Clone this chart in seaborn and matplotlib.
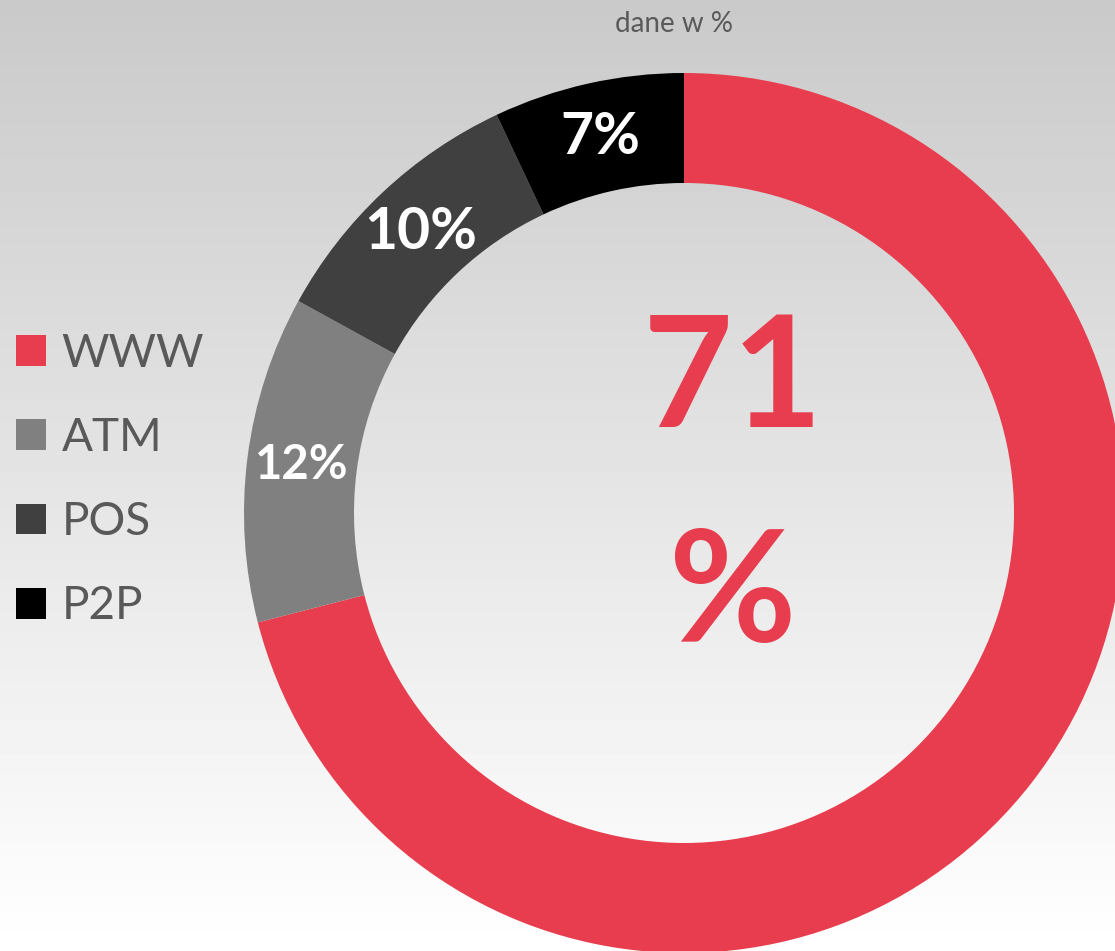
"""
Donut chart: share of card transactions by channel (dane w %)
"""

import numpy as np
import seaborn as sns
import matplotlib.pyplot as plt

# ─── DATA ────────────────────────────────────────────────────────────────────
channels = ["WWW", "ATM", "POS", "P2P"]
shares   = [71, 12, 10, 7]
colors   = ["#E73D4E", "#808080", "#404040", "#000000"]
title    = "dane w %"

# ─── STYLE ───────────────────────────────────────────────────────────────────
sns.set_theme(style="white")
plt.rcParams["font.family"] = ["Lato", "DejaVu Sans"]

W, H = 1115, 951
fig = plt.figure(figsize=(W / 100, H / 100), dpi=100)
ax = fig.add_axes([0, 0, 1, 1])

# vertical grey -> white background gradient
grad = np.linspace(0.79, 1.0, 256).reshape(-1, 1)
ax.imshow(grad, extent=(0, W, 0, H), origin="upper", cmap="gray",
          vmin=0, vmax=1, aspect="auto", zorder=0)

# ─── DONUT ───────────────────────────────────────────────────────────────────
cx, cy, r_out, ring = 684, H - 513, 440, 110
wedges, _, pcts = ax.pie(
    shares, colors=sns.color_palette(colors), startangle=90, counterclock=False,
    center=(cx, cy), radius=r_out,
    wedgeprops=dict(width=ring, linewidth=0),
    autopct=lambda p: f"{p:.0f}%", pctdistance=(r_out - ring / 2) / r_out,
)
for i, t in enumerate(pcts):
    t.set_color("white")
    t.set_fontweight("bold")
    t.set_fontsize([1, 34, 41, 41][i])
pcts[0].set_visible(False)  # big number goes in the middle instead

# big centre figure
ax.text(733, H - 427, f"{shares[0]}", color=colors[0], fontsize=112,
        fontweight="bold", ha="center", va="baseline")
ax.text(733, H - 642, "%", color=colors[0], fontsize=112,
        fontweight="bold", ha="center", va="baseline")

ax.text(674, H - 32, title, color="#595959", fontsize=20,
        ha="center", va="baseline")

# ─── LEGEND ──────────────────────────────────────────────────────────────────
ax.legend(wedges, channels, loc="center left", frameon=False,
          bbox_to_anchor=(16 / W, 1 - 480 / H), bbox_transform=fig.transFigure,
          fontsize=33, labelcolor="#595959", handlelength=0.66, handleheight=0.66,
          handletextpad=0.33, labelspacing=0.92, borderpad=0, borderaxespad=0)

ax.set_xlim(0, W)
ax.set_ylim(0, H)
ax.set_aspect("auto")
ax.axis("off")

fig.savefig("out.png", dpi=100)
